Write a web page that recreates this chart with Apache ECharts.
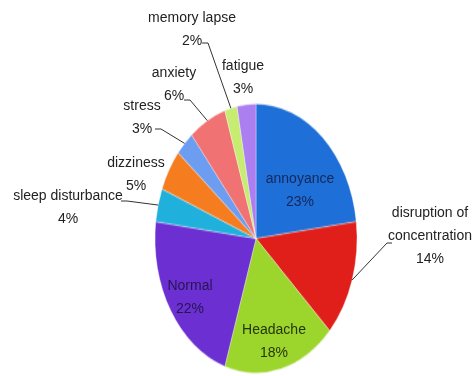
<!DOCTYPE html>
<html><head><meta charset="utf-8">
<script src="https://cdn.jsdelivr.net/npm/echarts@6/dist/echarts.min.js"></script>
<style>
html,body{margin:0;padding:0;background:#fff;}
#wrap{position:relative;width:476px;height:376px;overflow:hidden;background:#fff;}
#pie,#labels{position:absolute;left:0;top:0;width:476px;height:376px;}
#pie{transform-origin:256px 238.5px;transform:scaleY(1.3317);}
</style></head><body>
<div id="wrap"><div id="pie"></div><div id="labels"></div></div>
<script>
// ---- data ----
const categories = ['annoyance', 'disruption of\nconcentration', 'Headache', 'Normal', 'sleep disturbance', 'dizziness', 'stress', 'anxiety', 'memory lapse', 'fatigue'];
const values = [23, 14, 18, 22, 4, 5, 3, 6, 2, 3];
const colors = ['#1f6fd8', '#e01e1a', '#9cd52b', '#6b2fd2', '#20b0dc', '#f57c1f', '#6c9df0', '#f07272', '#c6ec72', '#ac7ff0'];

// ---- layout ----
const CX = 256, CY = 238.5, RX = 101, RY = 134.5;
const FONT = '"Liberation Sans", Arial, sans-serif';
// label block centres and leader-line elbow/end points
const LABEL_POS = [
  { x: 300, y: 191, line: null, color: '#14285a' },
  { x: 430, y: 236, line: [[387, 243], [392, 243]], color: '#222' },
  { x: 274, y: 342, line: null, color: '#26360c' },
  { x: 190, y: 298, line: null, color: '#261650' },
  { x: 68, y: 208, line: [[127, 201], [121, 201]], color: '#222' },
  { x: 136, y: 175, line: null, color: '#222' },
  { x: 142, y: 118, line: [[161, 129], [155, 129]], color: '#222' },
  { x: 174, y: 85, line: [[190, 100], [184, 100]], color: '#222' },
  { x: 192, y: 30, line: [[208, 43], [202, 43]], color: '#222' },
  { x: 243, y: 78, line: null, color: '#222' }
];

const total = values.reduce((a, b) => a + b, 0);
function edgePoint(i) {
  let before = 0;
  for (let k = 0; k < i; k++) before += values[k];
  const th = (before + values[i] / 2) / total * Math.PI * 2;
  return [CX + RX * Math.sin(th), CY - RY * Math.cos(th)];
}

const pieData = categories.map((c, i) => ({ name: c, value: values[i], itemStyle: { color: colors[i] } }));

const pieChart = echarts.init(document.getElementById('pie'), null, { renderer: 'canvas' });
pieChart.setOption({
  animation: false,
  series: [{
    type: 'pie',
    center: [CX, CY],
    radius: RX,
    startAngle: 90,
    clockwise: true,
    label: { show: false },
    labelLine: { show: false },
    itemStyle: { borderColor: 'rgba(255,255,255,0.55)', borderWidth: 0.6 },
    emphasis: { disabled: true },
    data: pieData
  }]
});

const labelChart = echarts.init(document.getElementById('labels'), null, { renderer: 'canvas' });
labelChart.setOption({
  animation: false,
  series: [{
    type: 'pie',
    center: [CX, CY],
    radius: RX,
    startAngle: 90,
    clockwise: true,
    silent: true,
    avoidLabelOverlap: false,
    itemStyle: { color: 'rgba(0,0,0,0)' },
    label: {
      show: true,
      position: 'outside',
      formatter: p => p.name + '\n' + p.value + '%',
      fontFamily: FONT,
      fontSize: 14,
      lineHeight: 23,
      align: 'center',
      color: '#222'
    },
    labelLine: { show: true, lineStyle: { color: '#333', width: 1 } },
    labelLayout: function (params) {
      const s = LABEL_POS[params.dataIndex];
      const res = { x: s.x, y: s.y, align: 'center', verticalAlign: 'middle' };
      if (s.line) res.labelLinePoints = [edgePoint(params.dataIndex), s.line[0], s.line[1]];
      return res;
    },
    data: categories.map((c, i) => ({
      name: c, value: values[i],
      label: { color: LABEL_POS[i].color },
      labelLine: { show: !!LABEL_POS[i].line }
    }))
  }]
});
</script>
</body></html>
